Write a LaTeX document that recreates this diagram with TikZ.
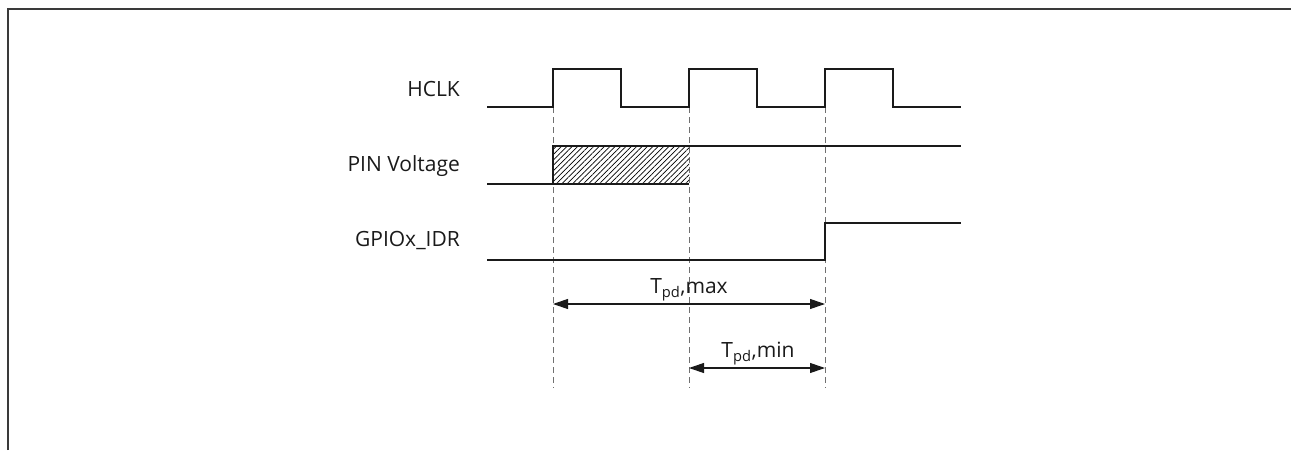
\documentclass[tikz,border=0pt]{standalone}
\usepackage{fontspec}
\setmainfont{Open Sans}
\usetikzlibrary{arrows.meta,patterns.meta}
\definecolor{frame}{HTML}{3A3A3A}
\definecolor{guide}{HTML}{707070}
\definecolor{ink}{HTML}{1A1A1A}
\tikzset{
  border/.style={draw=frame, line width=2pt},
  wave/.style={draw=ink, line width=1.2pt, line join=miter},
  guideline/.style={draw=guide, dash pattern=on 6pt off 4pt, line width=1pt},
  hatch/.style={pattern={Lines[angle=45,distance=3.8pt,line width=0.65pt]}, pattern color=black},
  dim/.style={draw=ink, line width=1.1pt, {Triangle[length=15pt,width=10pt]}-{Triangle[length=15pt,width=10pt]}},
  sig/.style={anchor=base east, text=ink, font=\fontsize{21}{25}\selectfont, inner sep=0pt},
  lab/.style={anchor=base, text=ink, font=\fontsize{21}{25}\selectfont, inner sep=0pt}
}

\begin{document}
\begin{tikzpicture}[x=1pt,y=-1pt]
  \useasboundingbox (0,0) rectangle (1291,450);
  \draw[border] (8,450) -- (8,9) -- (1291,9);

  % clock edges
  \def\xs{487} \def\xa{553} \def\xb{621} \def\xc{689}
  \def\xd{757} \def\xe{825} \def\xf{893} \def\xend{961}

  \node[sig] (hclk) at (460,96) {HCLK};
  \node[sig] (pin) at (460,171) {PIN Voltage};
  \node[sig] (idr) at (460,246) {GPIOx\_IDR};

  \coordinate (g1) at (\xa,107);  \coordinate (g1b) at (\xa,388);
  \coordinate (g2) at (\xc,107);  \coordinate (g2b) at (\xc,388);
  \coordinate (g3) at (\xe,107);  \coordinate (g3b) at (\xe,388);
  \draw[guideline] (g1) -- (g1b);
  \draw[guideline] (g2) -- (g2b);
  \draw[guideline] (g3) -- (g3b);

  \draw[wave] (\xs,107) -- (\xa,107) -- (\xa,69) -- (\xb,69) -- (\xb,107)
    -- (\xc,107) -- (\xc,69) -- (\xd,69) -- (\xd,107)
    -- (\xe,107) -- (\xe,69) -- (\xf,69) -- (\xf,107) -- (\xend,107);

  \path[hatch] (\xa,146) rectangle (\xc,184);
  \draw[wave] (\xs,184) -- (\xc,184);
  \draw[wave] (\xa,184) -- (\xa,146) -- (\xend,146);

  \draw[wave] (\xs,260) -- (\xe,260) -- (\xe,223) -- (\xend,223);

  \coordinate (maxL) at (\xa,304); \coordinate (maxR) at (\xe,304);
  \coordinate (minL) at (\xc,368); \coordinate (minR) at (\xe,368);
  \draw[dim] (maxL) -- (maxR);
  \draw[dim] (minL) -- (minR);
  \node[lab] (tmax) at (689,293) {T\textsubscript{pd},max};
  \node[lab] (tmin) at (758,357) {T\textsubscript{pd},min};
\end{tikzpicture}
\end{document}
